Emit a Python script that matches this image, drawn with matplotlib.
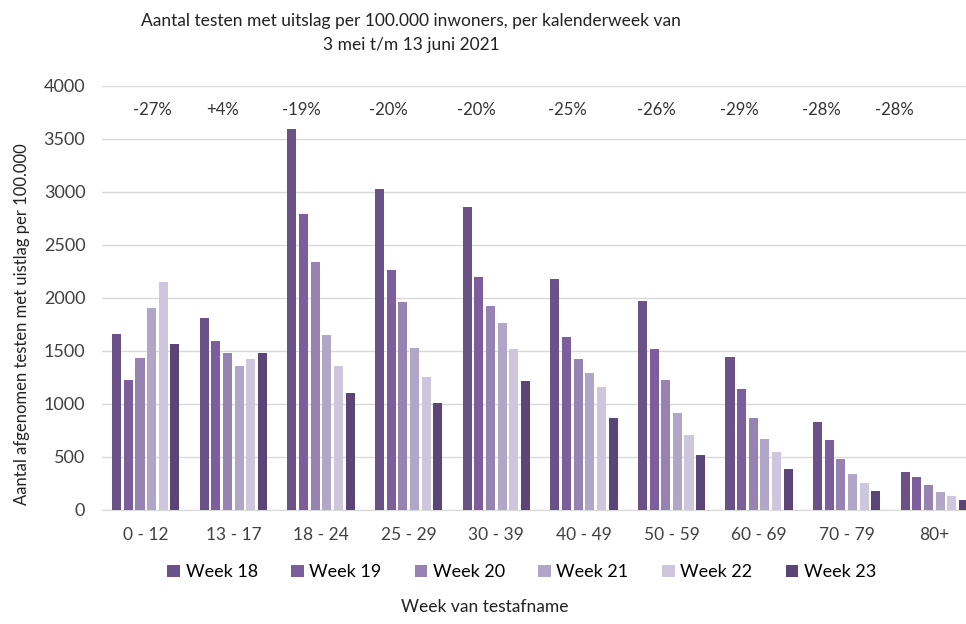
import numpy as np
import matplotlib
matplotlib.use("Agg")
import matplotlib.pyplot as plt

plt.rcParams['font.family'] = ['Lato', 'DejaVu Sans']

# data
groepen = ["0 - 12", "13 - 17", "18 - 24", "25 - 29", "30 - 39",
           "40 - 49", "50 - 59", "60 - 69", "70 - 79", "80+"]
weken = ["Week 18", "Week 19", "Week 20", "Week 21", "Week 22", "Week 23"]
week18 = [1660, 1807, 3595, 3029, 2854, 2175, 1967, 1439, 826, 358]
week19 = [1226, 1593, 2791, 2263, 2194, 1628, 1521, 1141, 660, 308]
week20 = [1430, 1480, 2341, 1964, 1920, 1427, 1226, 867, 484, 236]
week21 = [1907, 1355, 1647, 1527, 1763, 1292, 918, 669, 336, 167]
week22 = [2152, 1420, 1355, 1254, 1515, 1160, 704, 550, 254, 135]
week23 = [1562, 1480, 1100, 1006, 1213, 867, 522, 390, 182, 97]
procent = ["-27%", "+4%", "-19%", "-20%", "-20%", "-25%", "-26%", "-29%", "-28%", "-28%"]

series = [week18, week19, week20, week21, week22, week23]
kleuren = ["#6a5187", "#7b5e9b", "#9683b2", "#b1a5c8", "#cdc6dc", "#5b4577"]

fig = plt.figure(figsize=(9.66, 6.24), dpi=100)
ax = fig.add_axes([0.1056, 0.1827, 0.907, 0.680])

x = np.arange(len(groepen))
stap = 0.133
breedte = 0.103
for i, (vals, kl, naam) in enumerate(zip(series, kleuren, weken)):
    ax.bar(x + (i - 2.5) * stap, vals, width=breedte, color=kl, label=naam, zorder=3)

# percentages boven de groepen (handmatig geplaatst, net als in origineel)
offset = [0.08, -0.12, -0.23, -0.23, -0.23, -0.19, -0.17, -0.23, -0.29, -0.46]
for xi, p, d in zip(x, procent, offset):
    ax.text(xi + d, 3770, p, ha='center', va='center', fontsize=12, color='#333333')

ax.set_xlim(-0.5, 9.5)
ax.set_ylim(0, 4000)
ax.set_yticks(np.arange(0, 4001, 500))
ax.set_xticks(x)
ax.set_xticklabels(groepen)
ax.tick_params(axis='both', length=0, colors='#404040')
ax.tick_params(axis='x', pad=12, labelsize=12.5)
ax.tick_params(axis='y', pad=12, labelsize=13)
ax.grid(axis='y', color='#d9d9d9', linewidth=1, zorder=0)
for s in ['top', 'right', 'left']:
    ax.spines[s].set_visible(False)
ax.spines['bottom'].set_color('#d9d9d9')

fig.text(0.023, 0.48, "Aantal afgenomen testen met uistlag per 100.000",
         rotation=90, ha='center', va='center', fontsize=12, color='#222222')
fig.text(0.4255, 0.947, "Aantal testen met uitslag per 100.000 inwoners, per kalenderweek van\n3 mei t/m 13 juni 2021",
         ha='center', va='center', fontsize=12.5, color='#222222', linespacing=1.55)

fig.legend(loc='center', bbox_to_anchor=(0.54, 0.083), ncol=6, frameon=False,
           fontsize=13, handlelength=0.7, handleheight=0.7, handletextpad=0.3,
           columnspacing=1.85)
fig.text(0.502, 0.027, "Week van testafname", ha='center', va='center', fontsize=12.5, color='#222222')

fig.savefig("out.png", dpi=100)
